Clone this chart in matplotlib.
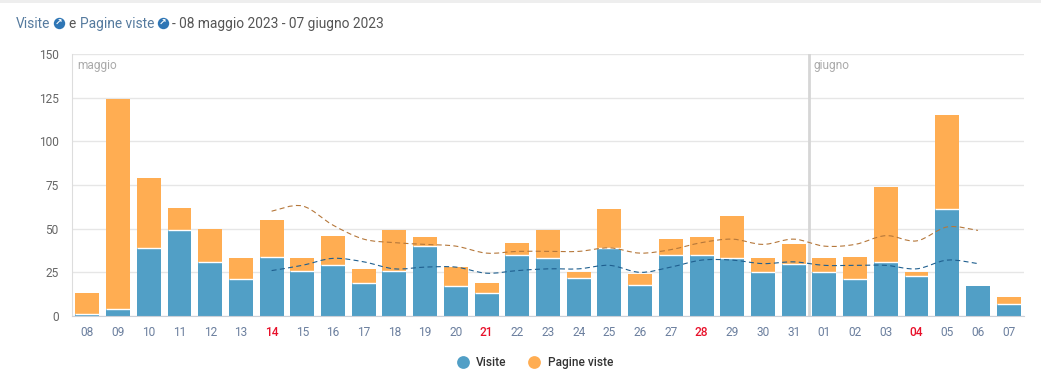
import matplotlib
matplotlib.use('Agg')
import numpy as np
import matplotlib.pyplot as plt
from matplotlib.path import Path
from matplotlib.patches import PathPatch, Rectangle
from matplotlib.lines import Line2D

plt.rcParams['font.family'] = ['Roboto', 'DejaVu Sans']

giorni = ['08','09','10','11','12','13','14','15','16','17','18','19','20','21','22','23','24','25','26','27','28','29','30','31','01','02','03','04','05','06','07']
festivi = ['14','21','28','04']
visite = [1,4,39,49,31,21,34,26,29,19,26,40,17,13,35,33,22,39,18,35,35,33,25,30,25,21,31,23,61,17,7]
totali = [13,124,79,62,50,33,55,33,46,27,49,45,28,19,42,49,25,61,24,44,45,57,33,41,33,34,74,25,115,17,11]
trend_giorni = giorni[6:30]
trend_visite = [26,29,33,31,27,28,28,24.5,26,27,27,29,25,28,32,32,30,31,29,29,29,27,32,30]
trend_totali = [60,63,52,44,42,41,40,36,37,37,37,39,36,38,42,44,41,44,40,41,46,43,51,49]
yticks = [0,25,50,75,100,125,150]

W, H = 1041, 385
fig = plt.figure(figsize=(W/100, H/100), dpi=100, facecolor='white')
def fx(p): return p/W
def fy(p): return 1-p/H

L, R, T, B = 72, 1024, 54, 316
ax = fig.add_axes([fx(L), fy(B), (R-L)/W, (B-T)/H])
x = np.arange(len(giorni))
pagine = np.array(totali) - np.array(visite)
BLUE, ORANGE = '#519fc6', '#ffad52'
w = 0.78
ax.bar(x, visite, w, color=BLUE, zorder=2)
ax.bar(x, pagine, w, bottom=visite, color=ORANGE, zorder=2)
mask = pagine > 0
ax.hlines(np.array(visite)[mask], x[mask]-w/2, x[mask]+w/2, color='white', lw=1, zorder=3)

def smooth(px, py, color):
    px, py = np.asarray(px, float), np.asarray(py, float)
    verts = [(px[0], py[0])]; codes = [Path.MOVETO]
    n = len(px)
    for i in range(n-1):
        p0 = i-1 if i > 0 else i
        p3 = i+2 if i+2 < n else i+1
        c1 = (px[i]+(px[i+1]-px[p0])/6, py[i]+(py[i+1]-py[p0])/6)
        c2 = (px[i+1]-(px[p3]-px[i])/6, py[i+1]-(py[p3]-py[i])/6)
        verts += [c1, c2, (px[i+1], py[i+1])]
        codes += [Path.CURVE4]*3
    ax.add_patch(PathPatch(Path(verts, codes), fill=False, ec=color, lw=0.8, ls=(0, (4.5, 3)), zorder=4))

tx = [giorni.index(d, 6) for d in trend_giorni]
smooth(tx, trend_totali, '#b5773a')
smooth(tx, trend_visite, '#1f5f8f')

ax.set_xlim(-0.5, len(giorni)-0.5)
ax.set_ylim(0, 150)
ax.set_yticks(yticks)
ax.set_xticks(x)
ax.set_xticklabels(giorni)
ax.grid(axis='y', color='#e6e6e6', lw=1, zorder=0)
ax.set_axisbelow(True)
for s in ['top', 'right']:
    ax.spines[s].set_visible(False)
ax.spines['left'].set_color('#dddddd')
ax.spines['bottom'].set_color('#ccd0d8')
ax.tick_params(axis='both', length=0)
ax.tick_params(axis='y', labelsize=8.6, labelcolor='#666666', pad=9.5)
ax.tick_params(axis='x', labelsize=8.6, labelcolor='#6b7f9e', pad=7)
for lab, g in zip(ax.get_xticklabels(), giorni):
    if g in festivi:
        lab.set_color('#e8102a')
        lab.set_fontweight('medium')

ax.axvline(23.5, color='#d6d6d6', lw=2, zorder=1)
fig.text(fx(77), fy(69), 'maggio', fontsize=8.6, color='#aaaaaa', va='baseline')
fig.text(fx(813), fy(69), 'giugno', fontsize=8.6, color='#aaaaaa', va='baseline')

# title
TY = 28
TFS = 9.95
LINK, DARK = '#557a9e', '#555555'
fig.text(fx(16), fy(TY), 'Visite', fontsize=TFS, color=LINK, va='baseline')
fig.text(fx(68), fy(TY), 'e', fontsize=TFS, color=DARK, va='baseline')
fig.text(fx(79.5), fy(TY), 'Pagine viste', fontsize=TFS, color=LINK, va='baseline')
fig.text(fx(172), fy(TY), '- 08 maggio 2023 - 07 giugno 2023', fontsize=TFS, color=DARK, va='baseline')
for cx in (59, 163):
    fig.add_artist(Line2D([fx(cx)], [fy(23)], marker='o', ms=8.2, mfc='#2f76b5', mec='none', ls='none'))
    fig.text(fx(cx), fy(23), '↗', fontsize=6.5, color='white', ha='center', va='center',
             family=['DejaVu Sans'], fontweight='bold')

# legend
MS = 9.2
LY = 362
fig.add_artist(Line2D([fx(463)], [fy(LY)], marker='o', ms=MS, mfc=BLUE, mec='none', ls='none'))
fig.add_artist(Line2D([fx(534)], [fy(LY)], marker='o', ms=MS, mfc=ORANGE, mec='none', ls='none'))
fig.text(fx(476), fy(LY+4), 'Visite', fontsize=8.6, color='#333333', va='baseline', fontweight='medium')
fig.text(fx(548), fy(LY+4), 'Pagine viste', fontsize=8.6, color='#333333', va='baseline', fontweight='medium')

# card edge
fig.add_artist(Rectangle((0, fy(3)), 1, 3/H, transform=fig.transFigure, fc='#eeeeee', ec='none'))

fig.savefig('out.png', dpi=100, facecolor='white')
